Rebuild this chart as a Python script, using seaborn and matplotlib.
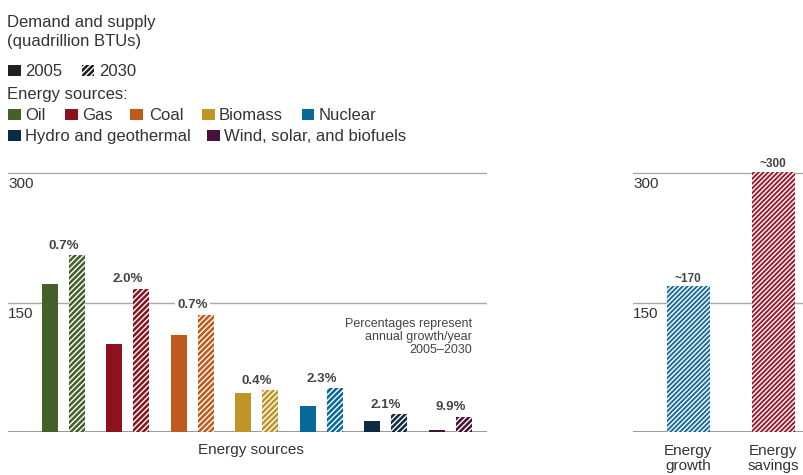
import matplotlib
matplotlib.use('Agg')
import matplotlib.pyplot as plt
import matplotlib.transforms as mtransforms
from matplotlib.patches import Rectangle
import seaborn as sns
import pandas as pd

# ---------------- data ----------------
sources = ['Oil', 'Gas', 'Coal', 'Biomass', 'Nuclear',
           'Hydro and geothermal', 'Wind, solar, and biofuels']
values_2005 = [172, 102, 113, 45, 30, 13, 3]
values_2030 = [205, 166, 136, 49, 51, 21, 18]
growth_labels = ['0.7%', '2.0%', '0.7%', '0.4%', '2.3%', '2.1%', '9.9%']
source_colors = ['#45612a', '#8c1220', '#c05a1c', '#c09528',
                 '#07699a', '#0c2a44', '#4a1238']
years = ['2005', '2030']

outlook_categories = ['Energy\ngrowth', 'Energy\nsavings']
outlook_values = [169, 301]
outlook_labels = ['~170', '~300']
outlook_colors = ['#1a6c9e', '#9e1a2c']

ytick_values = [150, 300]

# ---------------- style ----------------
sns.set_theme(style='white')
plt.rcParams['font.family'] = ['Liberation Sans', 'DejaVu Sans']
plt.rcParams['hatch.linewidth'] = 1.0
TXT = '#333333'
GRID = '#aaaaaa'

W, H = 804, 475
fig = plt.figure(figsize=(W / 100, H / 100), dpi=100)

base_px = 432.3
px_per_unit = (432.3 - 173.0) / 300
ymax = 330
ax_h = ymax * px_per_unit
ax1 = fig.add_axes([8 / W, (H - base_px) / H, 479 / W, ax_h / H])
ax2 = fig.add_axes([633 / W, (H - base_px) / H, 171 / W, ax_h / H])

# ---------------- left panel ----------------
df = pd.DataFrame({
    'source': sources * 2,
    'year': [years[0]] * len(sources) + [years[1]] * len(sources),
    'value': values_2005 + values_2030,
})
sns.barplot(data=df, x='source', y='value', hue='year', order=sources,
            hue_order=years, width=0.84, gap=0.41, ax=ax1, legend=False,
            palette=['#000000', '#000000'], saturation=1, errorbar=None)
for ci, cont in enumerate(ax1.containers):
    for j, bar in enumerate(cont):
        bar.set_facecolor(source_colors[j])
        bar.set_linewidth(0)
        if ci == 1:
            bar.set_edgecolor('white')
            bar.set_linewidth(0)
            bar.set_hatch('//////')

for j, lab in enumerate(growth_labels):
    top = max(values_2005[j], values_2030[j])
    ax1.annotate(lab, xy=(j, top), xytext=(0, 6.8), textcoords='offset points',
                 ha='center', va='center', fontsize=9.5, fontweight='bold',
                 color='#444444',
                 bbox=dict(boxstyle='square,pad=0.15', fc='white', ec='none'))

ax1.set_xlim(-0.86, 6.57)

# ---------------- right panel ----------------
sns.barplot(x=outlook_categories, y=outlook_values, width=0.51, ax=ax2,
            color='#000000', saturation=1, errorbar=None)
for j, bar in enumerate(ax2.patches):
    bar.set_facecolor(outlook_colors[j])
    bar.set_edgecolor('white')
    bar.set_linewidth(0)
    bar.set_hatch('///////')
for j, lab in enumerate(outlook_labels):
    ax2.annotate(lab, xy=(j, outlook_values[j]), xytext=(0, 5.5),
                 textcoords='offset points', ha='center', va='center',
                 fontsize=8.5, fontweight='bold', color='#444444')
ax2.set_xlim(-0.65, 1.36)

# ---------------- common axis styling ----------------
for ax in (ax1, ax2):
    ax.set_ylim(0, ymax)
    ax.set_yticks(ytick_values)
    ax.set_yticklabels([])
    ax.yaxis.grid(True, color=GRID, lw=1.0)
    ax.set_axisbelow(True)
    ax.axhline(0, color='#999999', lw=1.4, zorder=0.5)
    for s in ax.spines.values():
        s.set_visible(False)
    ax.tick_params(axis='both', length=0)
    ax.set_ylabel('')
    ax.patch.set_alpha(0)
    trans = mtransforms.blended_transform_factory(ax.transAxes, ax.transData)
    for v in ytick_values:
        ax.annotate(str(v), xy=(0, v), xycoords=trans, xytext=(0, -3),
                    textcoords='offset points', ha='left', va='top',
                    fontsize=11, color=TXT)

ax1.set_xticklabels([])
ax1.set_xlabel('Energy sources', fontsize=11, color=TXT)
ax1.xaxis.set_label_coords(0.507, -0.038)

ax2.set_xlabel('')
ax2.tick_params(axis='x', pad=8.5, labelsize=11, labelcolor=TXT)
for t in ax2.get_xticklabels():
    t.set_linespacing(1.05)

# note
fig.text(471.7 / W, 1 - 318 / H,
         'Percentages represent\nannual growth/year\n2005\u20132030',
         ha='right', va='top', fontsize=9, color='#444444',
         multialignment='right', linespacing=1.12)

# ---------------- custom legend ----------------
def ftext(x, yb, s):
    fig.text(x / W, 1 - yb / H, s, ha='left', va='baseline', fontsize=12,
             color=TXT)

def fsquare(x, yb, color, hatch=None):
    w, h = 12.5, 11
    r = Rectangle((x / W, 1 - yb / H), w / W, h / H, transform=fig.transFigure,
                  facecolor=color, edgecolor='white' if hatch else color,
                  linewidth=0, hatch=hatch)
    fig.add_artist(r)

ftext(7.5, 27, 'Demand and supply')
ftext(7.5, 46, '(quadrillion BTUs)')
fsquare(8, 76, '#231f20')
ftext(25, 76, years[0])
fsquare(82, 76, '#231f20', hatch='//////')
ftext(99, 76, years[1])
ftext(7.5, 99, 'Energy sources:')
row1_sq = [8, 65, 130, 202, 302]
row1_tx = [25, 82, 149, 219, 319]
for k in range(5):
    fsquare(row1_sq[k], 120, source_colors[k])
    ftext(row1_tx[k], 120, sources[k])
row2_sq = [8, 207]
row2_tx = [25, 224]
for k in range(2):
    fsquare(row2_sq[k], 141, source_colors[5 + k])
    ftext(row2_tx[k], 141, sources[5 + k])

fig.savefig('out.png', dpi=100)
